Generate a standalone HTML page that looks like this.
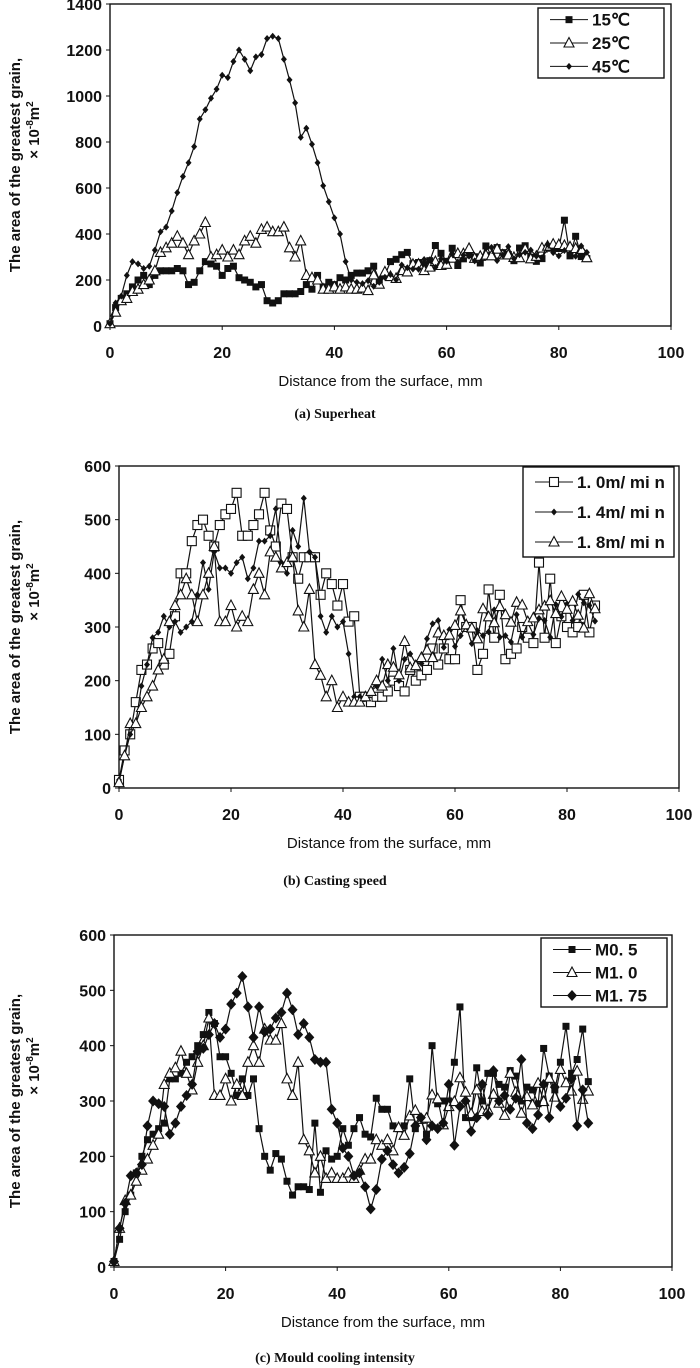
<!DOCTYPE html>
<html><head><meta charset="utf-8"><style>
html,body{margin:0;padding:0;background:#fff;}
svg{display:block;}
text{font-family:"Liberation Sans",sans-serif;fill:#111;}
</style></head><body>
<svg id="s" width="700" height="1368" viewBox="0 0 700 1368" xmlns="http://www.w3.org/2000/svg"></svg>
<script>
var S=document.getElementById('s');var out='';
var seed=7;function rnd(){seed=(seed*9301+49297)%233280;return seed/233280;}
function fill(arr,from,base,amp){for(var x=from;x<=85;x++){var b=x<60?base+(x-from)*(300-base)/(60-from):300+(x-60)*1.2;arr[x]=Math.round(b+(rnd()-0.5)*2*amp);}return arr;}
function P(o,from,base,amp){var a=[];for(var k in o)a[+k]=o[k];return fill(a,from,base,amp);}
function mk(type,x,y){
 if(type=='fs')return '<rect x="'+(x-3.5)+'" y="'+(y-3.5)+'" width="7" height="7" fill="#111"/>';
 if(type=='os')return '<rect x="'+(x-4.5)+'" y="'+(y-4.5)+'" width="9" height="9" fill="#fff" stroke="#111" stroke-width="1.1"/>';
 if(type=='ot')return '<polygon points="'+x+','+(y-5.5)+' '+(x-5)+','+(y+4)+' '+(x+5)+','+(y+4)+'" fill="#fff" stroke="#111" stroke-width="1.1"/>';
 if(type=='sd')return '<polygon points="'+x+','+(y-3.5)+' '+(x+3)+','+y+' '+x+','+(y+3.5)+' '+(x-3)+','+y+'" fill="#111"/>';
 if(type=='ld')return '<polygon points="'+x+','+(y-5.5)+' '+(x+5)+','+y+' '+x+','+(y+5.5)+' '+(x-5)+','+y+'" fill="#111"/>';
}
function panel(c){
 var L=c.L,R=c.R,T=c.T,B=c.B,ym=c.ymax;
 function X(v){return L+(R-L)*v/100;}function Y(v){return B-(B-T)*v/ym;}
 out+='<rect x="'+L+'" y="'+T+'" width="'+(R-L)+'" height="'+(B-T)+'" fill="none" stroke="#111" stroke-width="1.4"/>';
 for(var v=0;v<=100;v+=20){out+='<line x1="'+X(v)+'" y1="'+B+'" x2="'+X(v)+'" y2="'+(B+4)+'" stroke="#111"/>';
  out+='<text x="'+X(v)+'" y="'+(B+32)+'" font-size="16" font-weight="bold" text-anchor="middle">'+v+'</text>';}
 for(var v=0;v<=ym;v+=c.ystep){out+='<line x1="'+(L-4)+'" y1="'+Y(v)+'" x2="'+L+'" y2="'+Y(v)+'" stroke="#111"/>';
  out+='<text x="'+(L-8)+'" y="'+(Y(v)+6)+'" font-size="16" font-weight="bold" text-anchor="end">'+v+'</text>';}
 out+='<text x="'+((L+R)/2-10)+'" y="'+(B+60)+'" font-size="15" text-anchor="middle">Distance  from the surface, mm</text>';
 var cy=(T+B)/2;
 out+='<text transform="translate(20,'+cy+') rotate(-90)" font-size="15" font-weight="bold" text-anchor="middle">The area of  the  greatest  grain,</text>';
 out+='<text transform="translate(39,'+(cy-35)+') rotate(-90)" font-size="15" font-weight="bold" text-anchor="middle">× 10<tspan font-size="10" dy="-6">-8</tspan><tspan dy="6">m</tspan><tspan font-size="10" dy="-6">2</tspan></text>';
 out+='<text x="'+c.capx+'" y="'+c.capy+'" font-size="14" font-weight="bold" style="font-family:\'Liberation Serif\',serif" text-anchor="middle">'+c.cap+'</text>';
 c.series.forEach(function(s){var d='';for(var i=0;i<=85;i++){if(s.d[i]==null)continue;d+=(d?'L':'M')+X(i).toFixed(1)+' '+Y(s.d[i]).toFixed(1);}
  out+='<path d="'+d+'" fill="none" stroke="#111" stroke-width="1.2"/>';
  for(var i=0;i<=85;i++)if(s.d[i]!=null)out+=mk(s.m,X(i),Y(s.d[i]));});
 var g=c.leg;out+='<rect x="'+g[0]+'" y="'+g[1]+'" width="'+(g[2]-g[0])+'" height="'+(g[3]-g[1])+'" fill="#fff" stroke="#111" stroke-width="1.4"/>';
 var h=(g[3]-g[1])/3;
 c.series.forEach(function(s,k){var yy=g[1]+h*(k+0.5);out+='<line x1="'+(g[0]+12)+'" y1="'+yy+'" x2="'+(g[0]+50)+'" y2="'+yy+'" stroke="#111"/>'+mk(s.m,g[0]+31,yy);
  out+='<text x="'+(g[0]+54)+'" y="'+(yy+6)+'" font-size="17" font-weight="bold">'+s.n+'</text>';});
}
var a45=P({0:10,1:100,2:130,3:220,4:280,5:270,6:250,7:260,8:330,9:410,10:430,11:500,12:580,13:650,14:710,15:780,16:900,17:940,18:990,19:1030,20:1090,21:1080,22:1150,23:1200,24:1160,25:1110,26:1170,27:1180,28:1250,29:1260,30:1250,31:1160,32:1070,33:970,34:820,35:860,36:790,37:710,38:610,39:540,40:470,41:400,42:280,43:200,44:190},45,185,35);
var a25=P({0:10,1:60,2:110,3:120,4:150,5:160,6:180,7:200,8:240,9:320,10:340,11:360,12:390,13:360,14:310,15:370,16:400,17:450,18:300,19:310,20:330,21:300,22:330,23:310,24:370,25:390,26:360,27:420,28:430,29:410,30:410,31:430,32:340,33:300,34:370,35:220,36:210,37:200,38:160,39:160,40:170,41:160,42:170,43:160,44:160},45,175,35);
var a15=P({0:10,1:80,2:120,3:140,4:170,5:200,6:220,7:180,8:220,9:240,10:240,11:240,12:250,13:240,14:180,15:190,16:240,17:280,18:270,19:260,20:220,21:250,22:260,23:210,24:200,25:190,26:170,27:180,28:110,29:100,30:110,31:140,32:140,33:140,34:150,35:180,36:160,37:220,38:170,39:190,40:180,41:210,42:200,43:220,44:230,45:230,46:240,47:260,48:200,49:220,50:280,51:290,52:310,53:320},54,285,40);a15[58]=350;a15[81]=460;a15[83]=390;
panel({L:110,R:671,T:4,B:326,ymax:1400,ystep:200,cap:'(a) Superheat',capx:335,capy:418,leg:[538,8,664,78],
 series:[{n:'15℃',m:'fs',d:a15},{n:'25℃',m:'ot',d:a25},{n:'45℃',m:'sd',d:a45}]});
var b10=[15,70,100,160,220,230,260,270,230,250,320,400,400,460,490,500,470,450,490,510,520,550,470,470,490,510,550,480,450,530,520,430,390,430,430,430,360,400,380,340,380,310,320,170,170,160,170,170,180,200,190,180,220,200,210,220,260,230,260,240,240,350,300,300,220,250,370,280,360,240,250,260,300,280,270,420,280,390,270,320,300,290,300,360,290,340];
var b14=P({0:15,1:60,2:100,3:120,4:190,5:230,6:280,7:290,8:320,9:300,10:310,11:290,12:300,13:310,14:360,15:420,16:370,17:440,18:410,19:410,20:400,21:420,22:430,23:390,24:410,25:460,26:460,27:470,28:520,29:420,30:400,31:480,32:450,33:540,34:440,35:430,36:320,37:290,38:320,39:300,40:310,41:250,42:170,43:170,44:170,45:180,46:190,47:240,48:200,49:260,50:200,51:240,52:250},53,265,40);
var b18=P({0:10,1:60,2:120,3:120,4:150,5:170,6:190,7:220,8:240,9:310,10:340,11:360,12:390,13:360,14:310,15:360,16:400,17:450,18:310,19:310,20:340,21:300,22:320,23:310,24:370,25:400,26:360,27:440,28:430,29:410,30:420,31:430,32:330,33:300,34:370,35:230,36:210,37:170,38:200,39:150,40:170,41:160,42:160,43:160,44:170,45:180,46:200,47:190,48:230},49,235,35);
panel({L:119,R:679,T:466,B:788,ymax:600,ystep:100,cap:'(b) Casting speed',capx:335,capy:885,leg:[523,467,674,557],
 series:[{n:'1. 0m/ mi n',m:'os',d:b10},{n:'1. 4m/ mi n',m:'sd',d:b14},{n:'1. 8m/ mi n',m:'ot',d:b18}]});
var c05=[10,50,100,130,170,200,230,240,250,260,340,340,350,370,380,400,420,460,440,380,380,350,310,340,310,340,250,200,175,205,195,155,130,145,145,140,260,135,210,195,200,250,220,250,270,240,235,305,285,285,255,250,255,340,250,265,240,400,295,300,300,370,470,270,270,360,300,350,350,330,325,355,345,300,325,320,295,395,345,320,370,435,350,375,430,335];
var c10=P({0:10,1:70,2:120,3:130,4:155,5:175,6:195,7:220,8:240,9:330,10:350,11:360,12:390,13:350,14:320,15:370,16:400,17:450,18:310,19:310,20:340,21:300,22:330,23:310,24:370,25:400,26:370,27:430,28:410,29:410,30:440,31:340,32:310,33:370,34:230,35:210,36:170,37:200,38:160,39:170,40:160,41:160,42:170,43:160,44:175,45:195,46:195,47:230,48:220,49:230,50:210},51,240,40);
var c175=[10,70,115,165,170,185,255,300,295,290,240,260,290,310,330,390,395,420,440,415,430,475,495,525,470,415,470,425,430,450,460,495,465,420,440,415,375,370,370,285,260,215,200,165,170,145,105,140,195,210,185,170,180,205,255,270,230,255,250,260,330,220,290,300,245,270,330,275,355,300,310,285,305,375,260,250,275,330,270,325,290,305,340,255,320,260];
panel({L:114,R:672,T:935,B:1267,ymax:600,ystep:100,cap:'(c) Mould cooling intensity',capx:335,capy:1362,leg:[541,938,667,1007],
 series:[{n:'M0. 5',m:'fs',d:c05},{n:'M1. 0',m:'ot',d:c10},{n:'M1. 75',m:'ld',d:c175}]});
S.innerHTML=out;
</script>
</body></html>
